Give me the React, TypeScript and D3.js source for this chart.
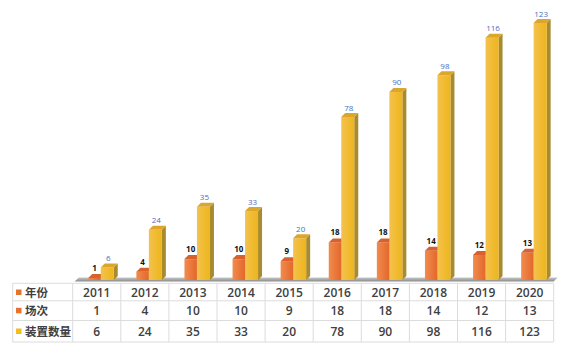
import React from "react";
import * as d3 from "d3";

const years = ["2011", "2012", "2013", "2014", "2015", "2016", "2017", "2018", "2019", "2020"];
const sessions = [1, 4, 10, 10, 9, 18, 18, 14, 12, 13];
const devices = [6, 24, 35, 33, 20, 78, 90, 98, 116, 123];
const rowLabels = ["年份", "场次", "装置数量"];

const W = 564;
const H = 360;
const tableLeft = 12.7;
const headRight = 72.7;
const tableRight = 553.7;
const floorY = 280;
const dx = 4;
const dy = -4;

const x = d3.scaleBand<string>().domain(years).range([headRight, tableRight]).padding(0);
const y = d3.scaleLinear().domain([0, 123]).range([floorY, 23]);

const rowLines = [283.3, 300.8, 320.5, 342];
const rowCenters = [292.5, 310.8, 331.5];

const font = "'Open Sans', 'Noto Sans CJK SC', sans-serif";

function Bar3D({ x0, w, v, front, top, side }: { x0: number; w: number; v: number; front: string; top: string; side: string }) {
  const yt = y(v);
  const yb = floorY;
  return (
    <g>
      <path d={`M${x0 + w},${yb} L${x0 + w + dx},${yb + dy} L${x0 + w + dx},${yt + dy} L${x0 + w},${yt} Z`} fill={side} />
      <rect x={x0} y={yt} width={w} height={yb - yt} fill={front} />
      <path d={`M${x0},${yt} L${x0 + dx},${yt + dy} L${x0 + w + dx},${yt + dy} L${x0 + w},${yt} Z`} fill={top} />
    </g>
  );
}

export default function App() {
  const bw = x.bandwidth();
  return (
    <svg width={W} height={H} style={{ position: "absolute", left: 0, top: 0, background: "#fff" }}>
      <defs>
        <linearGradient id="gOr" x1="0" x2="1" y1="0" y2="0">
          <stop offset="0" stopColor="#F08C4E" />
          <stop offset="1" stopColor="#E4672A" />
        </linearGradient>
        <linearGradient id="gYe" x1="0" x2="1" y1="0" y2="0">
          <stop offset="0" stopColor="#F4C24E" />
          <stop offset="1" stopColor="#EEB51A" />
        </linearGradient>
        <linearGradient id="gFloor" x1="0" x2="0" y1="0" y2="1">
          <stop offset="0" stopColor="#C8C8C8" />
          <stop offset="1" stopColor="#8A8A8A" />
        </linearGradient>
      </defs>
      {/* floor */}
      <path
        d={`M${headRight + 2},${floorY + 1.5} L${tableRight},${floorY + 1.5} L${tableRight + dx},${floorY + 1.5 + dy} L${headRight + 2 + dx},${floorY + 1.5 + dy} Z`}
        fill="url(#gFloor)"
      />
      {years.map((yr, i) => {
        const c = (x(yr) as number) + bw / 2;
        const ox = c - 8.5;
        const yx = c + 4;
        return (
          <g key={yr}>
            <Bar3D x0={ox} w={12.5} v={sessions[i]} front="url(#gOr)" top="#D9622C" side="#B9521F" />
            <Bar3D x0={yx} w={13} v={devices[i]} front="url(#gYe)" top="#DCA62C" side="#A88A30" />
            <text x={ox + 6.25} y={y(sessions[i]) - 7} textAnchor="middle" fontSize={8} fontWeight={700} fill="#111" fontFamily={font}>
              {sessions[i]}
            </text>
            <text x={yx + 7.5} y={y(devices[i]) - 6.5} textAnchor="middle" fontSize={8} fill="#4A6EC0" fontFamily={font}>
              {devices[i]}
            </text>
          </g>
        );
      })}
      {/* table */}
      <g stroke="#DCDCDC" strokeWidth={1}>
        {rowLines.map((ry, i) => (
          <line key={"h" + i} x1={tableLeft} x2={tableRight} y1={ry} y2={ry} />
        ))}
        <line x1={tableLeft} x2={tableLeft} y1={rowLines[0]} y2={rowLines[3]} />
        {[...years.map((yr) => x(yr) as number), tableRight].map((vx, i) => (
          <line key={"v" + i} x1={vx} x2={vx} y1={rowLines[0]} y2={rowLines[3]} />
        ))}
      </g>
      {rowLabels.map((lab, r) => (
        <g key={lab}>
          <rect x={16} y={rowCenters[r] - 3} width={5.5} height={5.5} fill={r === 2 ? "#F2BC22" : "#E8712E"} />
          <text x={25} y={rowCenters[r]} dy="0.36em" fontSize={11.5} fontWeight={700} fill="#404040" fontFamily={font}>
            {lab}
          </text>
        </g>
      ))}
      {[years, sessions, devices].map((row, r) =>
        row.map((v, i) => (
          <text
            key={r + "-" + i}
            x={(x(years[i]) as number) + bw / 2}
            y={rowCenters[r]}
            dy="0.36em"
            textAnchor="middle"
            fontSize={12}
            fontWeight={600}
            fill="#404040"
            fontFamily={font}
          >
            {v}
          </text>
        ))
      )}
    </svg>
  );
}
